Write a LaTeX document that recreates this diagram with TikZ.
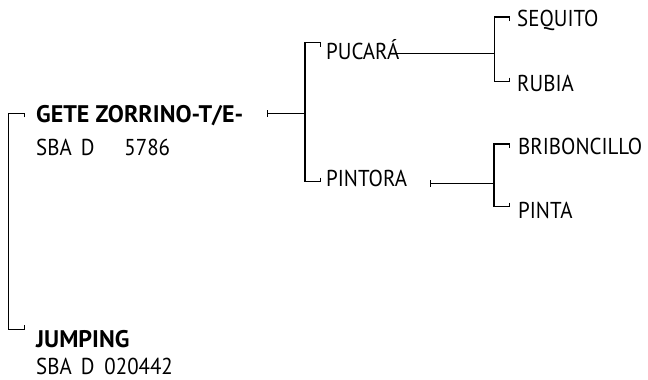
\documentclass[tikz,border=0pt]{standalone}
\usepackage{fontspec}
\setmainfont{PT Sans}[FakeStretch=0.91]
\newfontfamily\namefont{PT Sans}
\usetikzlibrary{arrows.meta}
\begin{document}
\begin{tikzpicture}[x=1pt, y=-1pt,
    every node/.style={inner sep=0pt, anchor=base west, font=\fontsize{23}{26}\selectfont},
    horse/.style={font=\fontsize{24}{26}\selectfont\namefont\bfseries},
    lnk/.style={line width=1.2pt},
    tkup/.style={lnk, -{Bar[width=8pt,line width=1.2pt,left]}},
    tkdown/.style={lnk, -{Bar[width=8pt,line width=1.2pt,right]}},
    tkstart/.style={lnk, {Bar[width=7pt,line width=1.2pt]}-}]
    \useasboundingbox (0,0) rectangle (648,380);

    % Namen
    \node[horse] (gete) at (36,122) {GETE ZORRINO-T/E-};
    \node (gete-id) at (36,155.5) {SBA\hspace{9pt}D\hspace{30pt}5786};
    \node[horse] (jumping) at (36,347) {JUMPING};
    \node (jumping-id) at (36,374.5) {SBA\hspace{9pt}D\hspace{10pt}020442};
    \node (pucara) at (326,59.5) {PUCARÁ};
    \node (pintora) at (326,186.5) {PINTORA};
    \node (sequito) at (517,26.5) {SEQUITO};
    \node (rubia) at (517,91) {RUBIA};
    \node (bribon) at (518,154.5) {BRIBONCILLO};
    \node (pinta) at (518,218.5) {PINTA};

    % Gabelpunkte
    \coordinate (f0) at (8.5,221);
    \coordinate (f1) at (305,113.3);
    \coordinate (f2) at (494.5,53.3);
    \coordinate (f3) at (494,183.3);
    \coordinate (gete-in) at (25,113.3);
    \coordinate (jumping-in) at (25,329.3);
    \coordinate (gete-out) at (266.7,113.3);
    \coordinate (pucara-in) at (320.7,42.7);
    \coordinate (pintora-in) at (320.7,181.7);
    \coordinate (pucara-out) at (394,53.3);
    \coordinate (pintora-out) at (430,183.3);
    \coordinate (sequito-in) at (510,17);
    \coordinate (rubia-in) at (510,81.7);
    \coordinate (bribon-in) at (510,144);
    \coordinate (pinta-in) at (510,206.7);

    % Linien
    \draw[tkdown] (f0) |- (gete-in);
    \draw[tkup] (f0) |- (jumping-in);
    \draw[tkstart] (gete-out) -- (f1);
    \draw[tkdown] (f1) |- (pucara-in);
    \draw[tkup] (f1) |- (pintora-in);
    \draw[lnk] (pucara-out) -- (f2);
    \draw[tkdown] (f2) |- (sequito-in);
    \draw[tkup] (f2) |- (rubia-in);
    \draw[tkstart] (pintora-out) -- (f3);
    \draw[tkdown] (f3) |- (bribon-in);
    \draw[tkup] (f3) |- (pinta-in);
\end{tikzpicture}
\end{document}
